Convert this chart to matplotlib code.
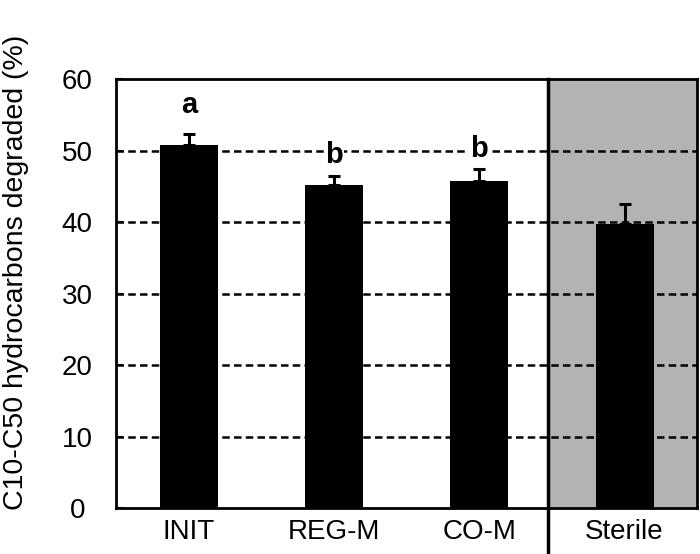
import matplotlib
matplotlib.use("Agg")
import matplotlib.pyplot as plt

plt.rcParams["font.family"] = ["Liberation Sans", "DejaVu Sans"]

TEXT = "#000000"
SHADE = "#b3b3b3"

groups = ["INIT", "REG-M", "CO-M", "Sterile"]
degraded = [50.8, 45.2, 45.8, 39.8]
err_up = [1.6, 1.3, 1.7, 2.7]
letters = ["a", "b", "b", ""]
letter_y = [56.4, 49.4, 50.2, None]
y_ticks = [0, 10, 20, 30, 40, 50, 60]

fig = plt.figure(figsize=(7.0, 5.54), dpi=100)
ax = fig.add_axes([0.166, 0.083, 0.830, 0.774])

x = list(range(len(groups)))
split = 2.47

ax.axvspan(split, 3.5, color=SHADE, zorder=0)
for t in y_ticks[1:-1]:
    ax.axhline(t, color=TEXT, linewidth=1.8, linestyle=(0, (3.0, 1.7)), zorder=1)

ax.bar(x, degraded, width=0.4, color=TEXT, zorder=2)
ax.errorbar(x, degraded, yerr=[[0] * len(x), err_up], fmt="none",
            ecolor=TEXT, elinewidth=2.2, capsize=4.5, capthick=2.2, zorder=3)

for xi, lab, ly in zip(x, letters, letter_y):
    if lab:
        ax.text(xi, ly, lab, ha="center", va="center", fontsize=21,
                fontweight="bold", color=TEXT, zorder=4,
                bbox=dict(facecolor="white", edgecolor="none", pad=1.0))

ax.plot([split, split], [-6.2, 60], color=TEXT, linewidth=2.5,
        clip_on=False, zorder=5)

ax.set_xlim(-0.5, 3.5)
ax.set_ylim(0, 60)
ax.set_yticks(y_ticks)
ax.set_xticks(x)
ax.set_xticklabels(groups)
ax.tick_params(axis="x", length=0, labelsize=20, pad=8, colors=TEXT)
ax.tick_params(axis="y", direction="in", length=5, width=1.5, labelsize=20,
               pad=28, colors=TEXT)
for lab in ax.get_yticklabels():
    lab.set_horizontalalignment("center")
for spine in ax.spines.values():
    spine.set_linewidth(2.0)
    spine.set_color(TEXT)
ax.set_ylabel("C10-C50 hydrocarbons degraded (%)", fontsize=20.5, color=TEXT)
ax.yaxis.set_label_coords(-0.150, 0.55)

fig.savefig("out.png", dpi=100)
